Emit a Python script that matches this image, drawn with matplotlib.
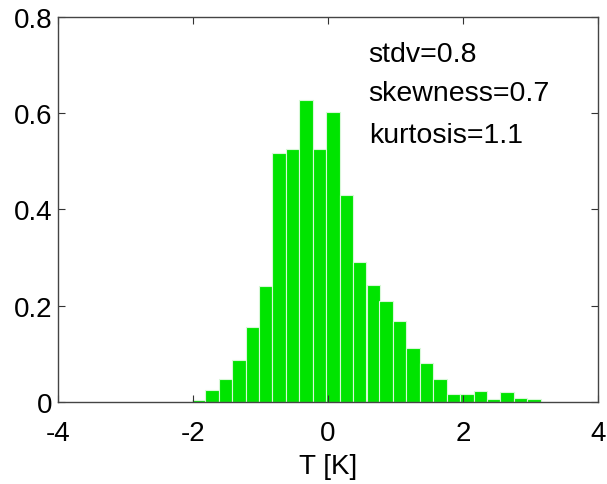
import matplotlib
matplotlib.use("Agg")
import matplotlib.pyplot as plt

# histogram of temperature anomalies
bin_centers = [-1.92, -1.72, -1.52, -1.32, -1.12, -0.93, -0.73, -0.53, -0.33,
               -0.13, 0.07, 0.27, 0.47, 0.67, 0.86, 1.06, 1.26, 1.46, 1.66,
               1.86, 2.06, 2.26, 2.45, 2.65, 2.85, 3.05]
density = [0.004, 0.025, 0.048, 0.086, 0.155, 0.241, 0.517, 0.527, 0.629,
           0.526, 0.603, 0.431, 0.291, 0.242, 0.210, 0.168, 0.111, 0.080,
           0.046, 0.015, 0.015, 0.023, 0.005, 0.019, 0.008, 0.005]
bin_width = 0.199

stats = ["stdv=0.8", "skewness=0.7", "kurtosis=1.1"]
stats_x = [0.59, 0.59, 0.61]
stats_y = [0.709, 0.627, 0.541]
xticks = [-4, -2, 0, 2, 4]
yticks = [0, 0.2, 0.4, 0.6, 0.8]

plt.rcParams["font.family"] = ["Liberation Sans", "DejaVu Sans"]

fig = plt.figure(figsize=(6.07, 4.85), dpi=100)
ax = fig.add_axes([0.096, 0.170, 0.889, 0.792])

ax.bar(bin_centers, density, width=bin_width, color="#00e400",
       edgecolor="#d8f8d8", linewidth=0.8)

ax.set_xlim(-4, 4)
ax.set_ylim(0, 0.8)
ax.set_xticks(xticks)
ax.set_yticks(yticks)
ax.set_xticklabels([str(t) for t in xticks])
ax.set_yticklabels(["0", "0.2", "0.4", "0.6", "0.8"])
ax.tick_params(direction="in", length=5, width=0.8, top=True, right=True,
               labelsize=20, colors="#333333", labelcolor="black")
ax.tick_params(axis="x", pad=13)
ax.tick_params(axis="y", pad=4)
for s in ax.spines.values():
    s.set_color("#444444")
    s.set_linewidth(1.0)

ax.set_xlabel("T [K]", fontsize=20, labelpad=5)

for txt, tx, ty in zip(stats, stats_x, stats_y):
    ax.text(tx, ty, txt, fontsize=20.5, ha="left", va="baseline")

fig.savefig("out.png", dpi=100)
